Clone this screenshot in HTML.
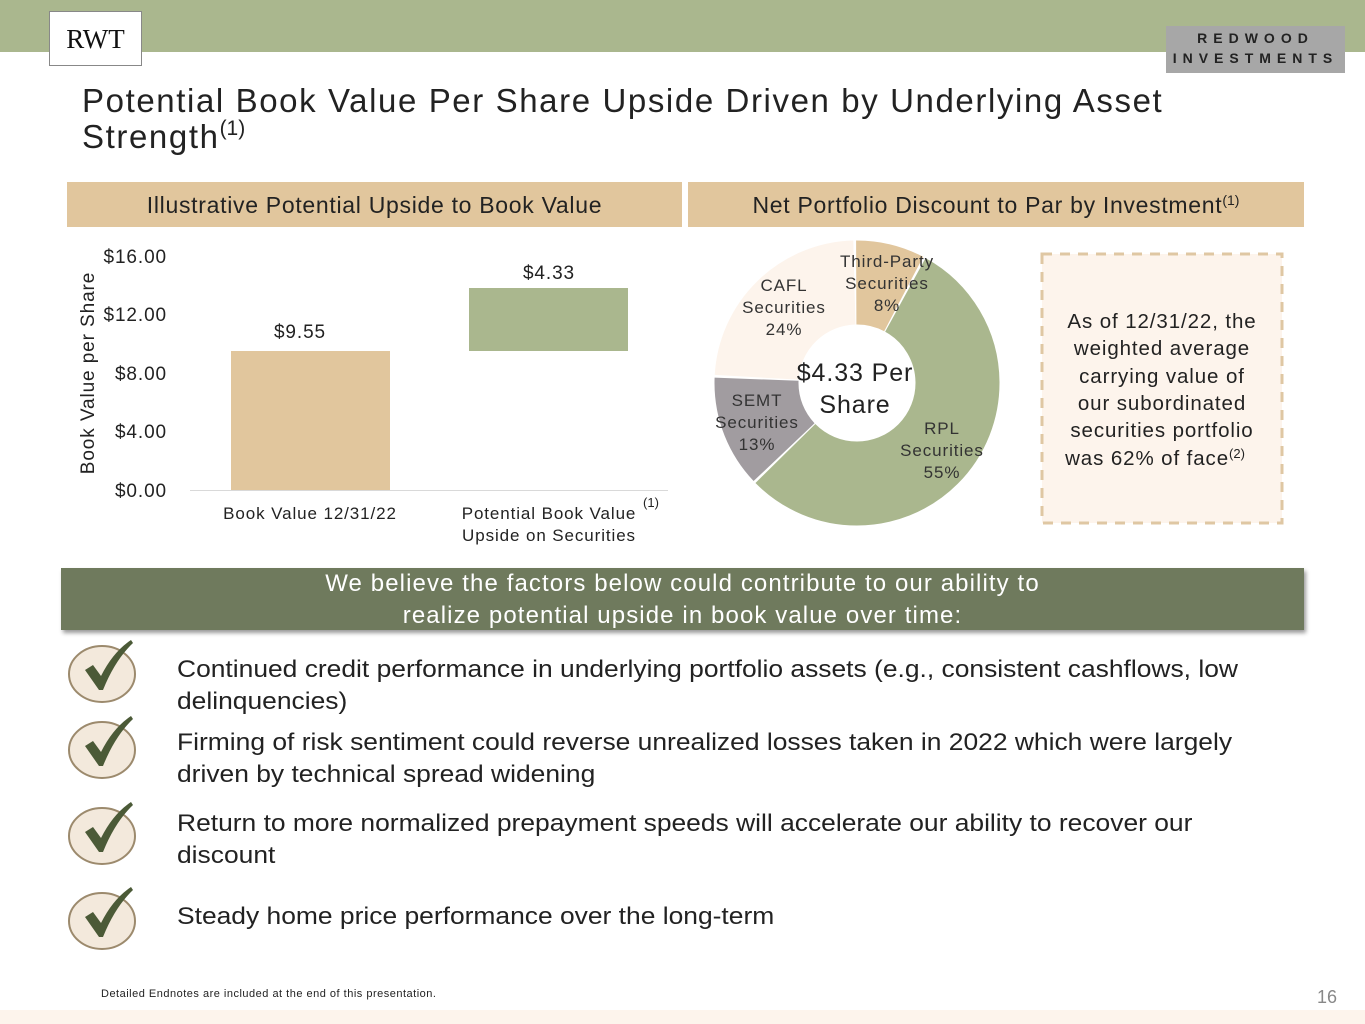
<!DOCTYPE html>
<html><head><meta charset="utf-8"><style>
*{margin:0;padding:0;box-sizing:border-box}
body{width:1365px;height:1024px;position:relative;background:#fff;font-family:"Liberation Sans",sans-serif;color:#222;overflow:hidden}
.a{position:absolute}
.hdr{background:#e1c69d;height:45px;font-size:23px;text-align:center;line-height:46px;color:#222;letter-spacing:0.7px}
.item{position:absolute;left:177px;font-size:24px;line-height:32px;color:#222;transform:scaleX(1.1);transform-origin:0 0;white-space:nowrap}
svg text{letter-spacing:0.9px}
</style></head><body>
<div class="a" style="left:0;top:0;width:1365px;height:52px;background:#aab78e"></div>
<div class="a" style="left:49px;top:11px;width:93px;height:55px;background:#fff;border:1px solid #888;font-family:'Liberation Serif',serif;font-size:27px;text-align:center;line-height:55px;color:#111">RWT</div>
<div class="a" style="left:1166px;top:26px;width:179px;height:47px;background:#a7a7a7;font-size:14px;font-weight:bold;letter-spacing:6px;color:#222;text-align:center;line-height:20px;padding-top:2px">REDWOOD<br>INVESTMENTS</div>
<div class="a" style="left:82px;top:83px;font-size:33px;line-height:36px;letter-spacing:1.6px;color:#222;white-space:nowrap">Potential Book Value Per Share Upside Driven by Underlying Asset<br>Strength<span style="font-size:21px;position:relative;top:-13px;letter-spacing:0">(1)</span></div>
<div class="a hdr" style="left:67px;top:182px;width:615px">Illustrative Potential Upside to Book Value</div>
<div class="a hdr" style="left:688px;top:182px;width:616px">Net Portfolio Discount to Par by Investment<span style="font-size:14px;position:relative;top:-8px;letter-spacing:0">(1)</span></div>
<svg class="a" style="left:0;top:0" width="1365" height="560">
<g font-size="19" fill="#222" text-anchor="end">
<text x="167" y="263">$16.00</text><text x="167" y="321">$12.00</text><text x="167" y="380">$8.00</text><text x="167" y="438">$4.00</text><text x="167" y="497">$0.00</text></g>
<text transform="translate(94,373) rotate(-90)" font-size="19" text-anchor="middle" fill="#222">Book Value per Share</text>
<line x1="190" y1="490.5" x2="668" y2="490.5" stroke="#d9d9d9"/>
<rect x="231" y="351" width="159" height="139" fill="#e1c69d"/>
<rect x="469" y="288" width="159" height="63" fill="#aab78e"/>
<g font-size="19" text-anchor="middle" fill="#222"><text x="300" y="338">$9.55</text><text x="549" y="279">$4.33</text></g>
<g font-size="17" text-anchor="middle" fill="#222"><text x="310" y="519">Book Value 12/31/22</text><text x="549" y="519">Potential Book Value</text><text x="549" y="541">Upside on Securities</text><text x="651" y="507" font-size="13" style="letter-spacing:0">(1)</text></g>
<g transform="rotate(-90 857 383)" fill="none" stroke-width="84">
<circle cx="857" cy="383" r="100.5" pathLength="100" stroke="#e1c69d" stroke-dasharray="7.7 92.3" stroke-dashoffset="0"/>
<circle cx="857" cy="383" r="100.5" pathLength="100" stroke="#aab78e" stroke-dasharray="54.7 45.3" stroke-dashoffset="-8"/>
<circle cx="857" cy="383" r="100.5" pathLength="100" stroke="#a19ca0" stroke-dasharray="12.7 87.3" stroke-dashoffset="-63"/>
<circle cx="857" cy="383" r="100.5" pathLength="100" stroke="#fdf4ec" stroke-dasharray="23.7 76.3" stroke-dashoffset="-76"/>
</g>
<g font-size="17" text-anchor="middle" fill="#333" style="letter-spacing:0.5px">
<text x="887" y="267">Third-Party</text><text x="887" y="289">Securities</text><text x="887" y="311">8%</text>
<text x="784" y="291">CAFL</text><text x="784" y="313">Securities</text><text x="784" y="335">24%</text>
<text x="757" y="406">SEMT</text><text x="757" y="428">Securities</text><text x="757" y="450">13%</text>
<text x="942" y="434">RPL</text><text x="942" y="456">Securities</text><text x="942" y="478">55%</text>
</g>
<g font-size="25" text-anchor="middle" fill="#222"><text x="855" y="381">$4.33 Per</text><text x="855" y="413">Share</text></g>
<rect x="1042" y="254" width="240" height="269" fill="#fdf4ec" stroke="#dfc7a3" stroke-width="3" stroke-dasharray="10 8"/>
<g font-size="20.5" text-anchor="middle" fill="#222" style="letter-spacing:1.2px">
<text x="1162" y="328">As of 12/31/22, the</text><text x="1162" y="355">weighted average</text><text x="1162" y="383">carrying value of</text><text x="1162" y="410">our subordinated</text><text x="1162" y="437">securities portfolio</text><text x="1155" y="465">was 62% of face<tspan font-size="13" dy="-7" style="letter-spacing:0">(2)</tspan></text></g>
</svg>
<div class="a" style="left:61px;top:568px;width:1243px;height:62px;background:#6f7a5d;box-shadow:2px 3px 4px rgba(0,0,0,.4)"></div>
<div class="a" style="left:61px;top:568px;width:1243px;color:#fff;font-size:24px;line-height:32px;text-align:center;letter-spacing:1.1px">We believe the factors below could contribute to our ability to<br>realize potential upside in book value over time:</div>
<svg class="a" style="left:0;top:630px" width="170" height="340">
<defs><path id="ck" d="M-20,0 L-12,-5 L-4,6 Q8,-18 26,-30 L28,-27 Q10,-10 -2,20 L-6,20 Z" fill="#4b5a37"/></defs>
<g fill="#f3e9dc" stroke="#9c8a6d" stroke-width="2">
<ellipse cx="102" cy="44" rx="33" ry="28"/><ellipse cx="102" cy="120" rx="33" ry="28"/><ellipse cx="102" cy="206" rx="33" ry="28"/><ellipse cx="102" cy="291" rx="33" ry="28"/></g>
<use href="#ck" x="105" y="40"/><use href="#ck" x="105" y="116"/><use href="#ck" x="105" y="202"/><use href="#ck" x="105" y="287"/>
</svg>
<div class="item" style="top:654px">Continued credit performance in underlying portfolio assets (e.g., consistent cashflows, low<br>delinquencies)</div>
<div class="item" style="top:727px">Firming of risk sentiment could reverse unrealized losses taken in 2022 which were largely<br>driven by technical spread widening</div>
<div class="item" style="top:808px">Return to more normalized prepayment speeds will accelerate our ability to recover our<br>discount</div>
<div class="item" style="top:901px">Steady home price performance over the long-term</div>
<div class="a" style="left:101px;top:988px;font-size:11px;color:#222;letter-spacing:0.5px">Detailed Endnotes are included at the end of this presentation.</div>
<div class="a" style="left:1317px;top:987px;font-size:18px;color:#888">16</div>
<div class="a" style="left:0;top:1010px;width:1365px;height:14px;background:#fdf4ec"></div>
</body></html>
